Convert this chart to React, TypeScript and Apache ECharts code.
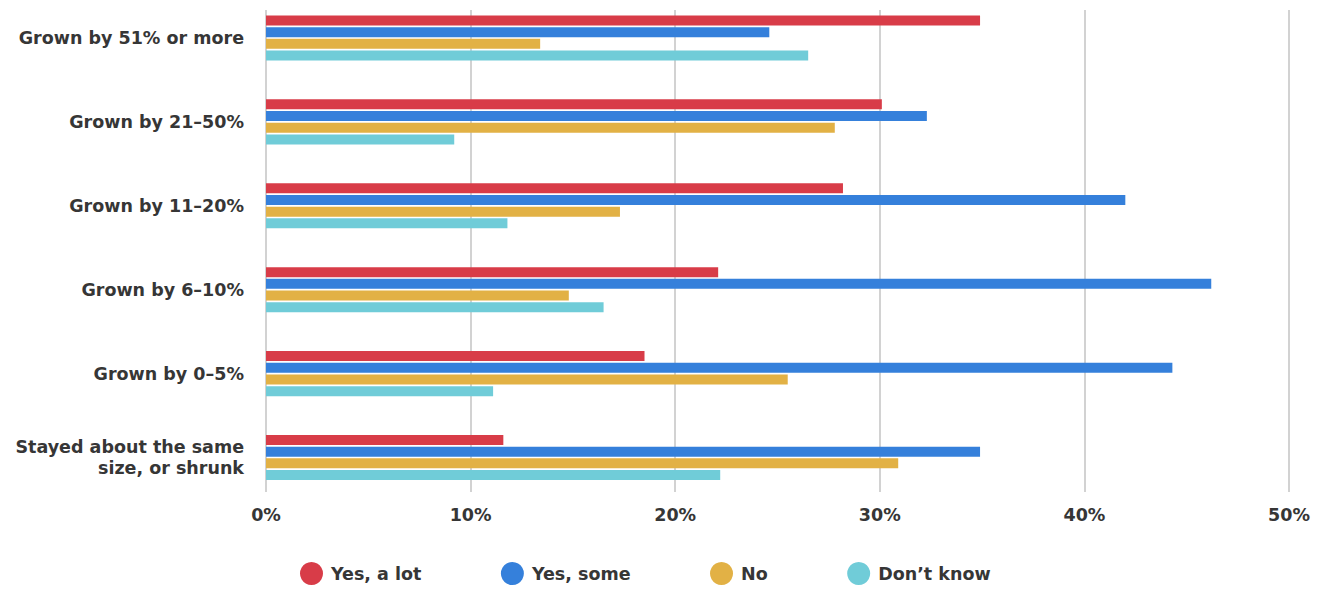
import React, { useEffect, useRef } from "react";
import * as echarts from "echarts";

const categories = [
  "Grown by 51% or more",
  "Grown by 21–50%",
  "Grown by 11–20%",
  "Grown by 6–10%",
  "Grown by 0–5%",
  "Stayed about the same\nsize, or shrunk",
];

const seriesNames = ["Yes, a lot", "Yes, some", "No", "Don’t know"];
const seriesColors = ["#D83C48", "#3580DB", "#E2B145", "#70CCD8"];

const yesALot = [34.9, 30.1, 28.2, 22.1, 18.5, 11.6];
const yesSome = [24.6, 32.3, 42.0, 46.2, 44.3, 34.9];
const no = [13.4, 27.8, 17.3, 14.8, 25.5, 30.9];
const dontKnow = [26.5, 9.2, 11.8, 16.5, 11.1, 22.2];

const seriesValues = [yesALot, yesSome, no, dontKnow];

const FONT = "'DejaVu Sans', sans-serif";
const TEXT_COLOR = "#363636";

export default function App() {
  const ref = useRef<HTMLDivElement>(null);

  useEffect(() => {
    if (!ref.current) return;
    const chart = echarts.init(ref.current, undefined, { renderer: "svg" });

    chart.setOption({
      animation: false,
      backgroundColor: "#ffffff",
      textStyle: { fontFamily: FONT },
      legend: {
        data: seriesNames,
        left: 295,
        top: 557,
        icon: "circle",
        itemWidth: 23,
        itemHeight: 23,
        itemGap: 79.5,
        textStyle: {
          fontFamily: FONT,
          fontSize: 17.5,
          fontWeight: "bold",
          color: TEXT_COLOR,
          padding: [0, 0, 0, 3],
        },
      },
      grid: [
        // gridlines and percentage labels
        { left: 266, width: 1023, top: 10, height: 482 },
        // bars and category labels: first and last group centres sit on the grid edges
        { left: 266, width: 1023, top: 38, height: 419.5 },
      ],
      xAxis: [
        {
          gridIndex: 0,
          type: "value",
          min: 0,
          max: 50,
          interval: 10,
          axisLine: { show: false },
          axisTick: { show: false },
          splitLine: { lineStyle: { color: "#d2d2d2", width: 2 } },
          axisLabel: {
            formatter: "{value}%",
            margin: 14,
            fontFamily: FONT,
            fontSize: 17.5,
            fontWeight: "bold",
            color: TEXT_COLOR,
          },
        },
        {
          gridIndex: 1,
          type: "value",
          min: 0,
          max: 50,
          show: false,
          splitLine: { show: false },
        },
      ],
      yAxis: [
        { gridIndex: 0, type: "value", show: false, splitLine: { show: false } },
        {
          gridIndex: 1,
          type: "category",
          inverse: true,
          boundaryGap: false,
          data: categories,
          axisLine: { show: false },
          axisTick: { show: false },
          splitLine: { show: false },
          axisLabel: {
            margin: 22,
            align: "right",
            fontFamily: FONT,
            fontSize: 17.5,
            fontWeight: "bold",
            lineHeight: 21,
            color: TEXT_COLOR,
          },
        },
      ],
      series: seriesNames.map((name, i) => ({
        name,
        type: "bar",
        xAxisIndex: 1,
        yAxisIndex: 1,
        data: seriesValues[i],
        barWidth: 10,
        barGap: "17%",
        itemStyle: { color: seriesColors[i] },
      })),
    });

    return () => chart.dispose();
  }, []);

  return (
    <div
      ref={ref}
      style={{ position: "fixed", left: 0, top: 0, width: 1326, height: 590 }}
    />
  );
}
